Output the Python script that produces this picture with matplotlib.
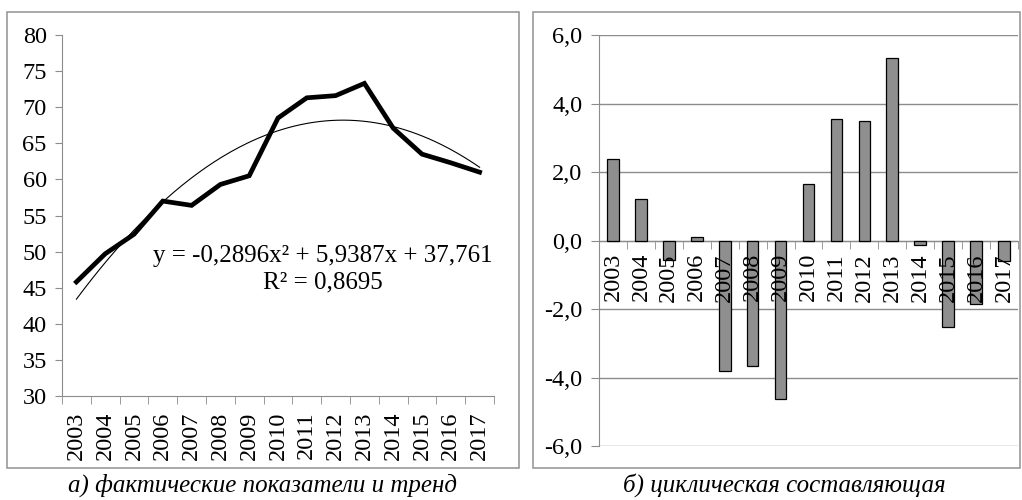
import numpy as np
import matplotlib
matplotlib.use("Agg")
import matplotlib.pyplot as plt
from matplotlib.patches import Rectangle

plt.rcParams['font.family'] = ['Liberation Serif', 'DejaVu Serif']

years = ['2003', '2004', '2005', '2006', '2007', '2008', '2009', '2010',
         '2011', '2012', '2013', '2014', '2015', '2016', '2017']
actual = [45.8, 49.7, 52.4, 57.0, 56.4, 59.3, 60.5, 68.5, 71.3, 71.6, 73.3,
          67.1, 63.5, 62.3, 61.0]
trend_coef = [-0.2896, 5.9387, 37.761]   # Excel polynomial trend, x = 1..15
cyclic = [2.37, 1.21, -0.57, 0.11, -3.82, -3.67, -4.64, 1.65, 3.54, 3.50,
          5.34, -0.14, -2.52, -1.84, -0.59]

eq_text = 'y = -0,2896x² + 5,9387x + 37,761\nR² = 0,8695'
caption_a = 'а) фактические показатели и тренд'
caption_b = 'б) циклическая составляющая'

axis_col = '#8c8c8c'
fs = 17.5

fig = plt.figure(figsize=(10.22, 5.0), dpi=100)

# panel frames
for x0, x1 in [(7, 519), (533, 1020)]:
    fig.patches.append(Rectangle((x0 / 1022, 1 - 468 / 500), (x1 - x0) / 1022,
                                 (468 - 12) / 500, transform=fig.transFigure,
                                 fill=False, edgecolor='#9a9a9a', lw=1.2))

n = len(years)
x = np.arange(n)

# left: actual values and trend
ax1 = fig.add_axes([62 / 1022, 1 - 396 / 500, (494 - 62) / 1022, (396 - 35) / 500])
ax1.plot(x, actual, color='black', lw=3.4, solid_joinstyle='miter')
xs = np.linspace(0, n - 1, 200)
ax1.plot(xs, np.polyval(trend_coef, xs + 1), color='black', lw=0.8)
ax1.set_xlim(-0.5, n - 0.5)
ax1.set_ylim(30, 80)
ax1.set_yticks(range(30, 81, 5))
ax1.set_xticks(x)
ax1.set_xticklabels(years, rotation=90, fontsize=fs)
ax1.set_xticks(np.arange(-0.5, n, 1), minor=True)
ax1.tick_params(axis='x', which='major', length=0, pad=11)
ax1.tick_params(axis='x', which='minor', length=6, color=axis_col, direction='out')
ax1.tick_params(axis='y', length=5, color=axis_col, labelsize=fs, pad=6)
for s in ['top', 'right']:
    ax1.spines[s].set_visible(False)
for s in ['left', 'bottom']:
    ax1.spines[s].set_color(axis_col)
ax1.text(8.55, 47.6, eq_text, ha='center', va='center', fontsize=18,
         linespacing=1.25)

# right: cyclic component
ax2 = fig.add_axes([599 / 1022, 1 - 446 / 500, (1018 - 599) / 1022, (446 - 35) / 500])
ax2.spines['bottom'].set_position(('data', 0))
ax2.spines['bottom'].set_color(axis_col)
ax2.spines['left'].set_color(axis_col)
for s in ['top', 'right']:
    ax2.spines[s].set_visible(False)
ax2.bar(x, cyclic, width=0.42, color='#8f8f8f', edgecolor='black', lw=0.9, zorder=3)
ax2.set_xlim(-0.5, n - 0.5)
ax2.set_ylim(-6, 6)
ax2.set_yticks(np.arange(-6, 6.1, 2))
ax2.set_yticklabels([f'{v:.1f}'.replace('.', ',') for v in np.arange(-6, 6.1, 2)])
ax2.grid(axis='y', color=axis_col, lw=1)
ax2.set_xticks([])
ax2.set_xticks(np.arange(-0.5, n, 1), minor=True)
ax2.tick_params(axis='x', which='minor', length=6, color=axis_col, direction='out')
ax2.tick_params(axis='y', length=6, color=axis_col, labelsize=fs, pad=6)
# year labels sit on top of the bars, just under the zero line
for xi, yr in zip(x, years):
    ax2.annotate(yr, (xi, 0), xytext=(0, -9), textcoords='offset points',
                 rotation=90, ha='center', va='top', fontsize=fs, zorder=4)

fig.text(262 / 1022, 1 - 485 / 500, caption_a, ha='center', va='center',
         fontsize=18, style='italic')
fig.text(784 / 1022, 1 - 485 / 500, caption_b, ha='center', va='center',
         fontsize=18, style='italic')

fig.savefig('out.png', dpi=100)
